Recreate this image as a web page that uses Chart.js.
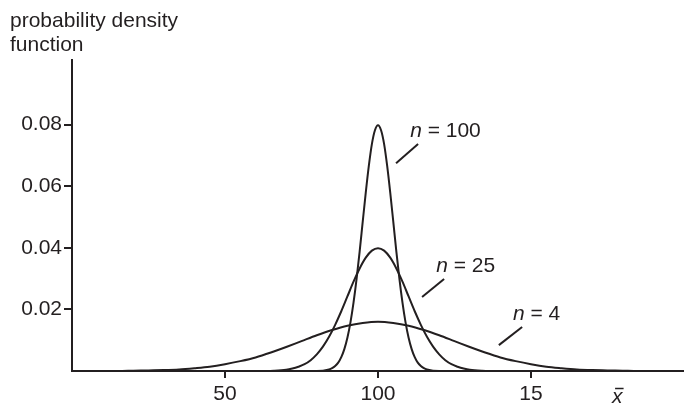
<!DOCTYPE html>
<html><head><meta charset="utf-8">
<script src="https://cdn.jsdelivr.net/npm/chart.js@4/dist/chart.umd.min.js"></script>
<style>html,body{margin:0;padding:0;background:#fff}canvas{display:block}</style>
</head><body>
<canvas id="c" width="684" height="408"></canvas>
<script>
// ---- data ----
const n100X = [0, 80, 84, 85, 86, 87, 88, 89, 90, 91, 92, 93, 94, 95, 96, 97, 98, 99, 100,
               101, 102, 103, 104, 105, 106, 107, 108, 109, 110, 111, 112, 113, 114, 115, 116, 120, 200];
const n100Y = [0, 0.0000, 0.0005, 0.0009, 0.0016, 0.0027, 0.0045, 0.0071, 0.0108, 0.0158, 0.0222, 0.0299, 0.0388, 0.0484, 0.0579, 0.0666, 0.0737, 0.0782, 0.0798,
               0.0782, 0.0737, 0.0666, 0.0579, 0.0484, 0.0388, 0.0299, 0.0222, 0.0158, 0.0108, 0.0071, 0.0045, 0.0027, 0.0016, 0.0009, 0.0005, 0.0000, 0];

const n25X = [0, 60, 66, 70, 72, 74, 76, 78, 80, 82, 84, 86, 88, 90, 92, 94, 96, 98, 100,
              102, 104, 106, 108, 110, 112, 114, 116, 118, 120, 122, 124, 126, 128, 130, 134, 140, 200];
const n25Y = [0, 0.0000, 0.0001, 0.0004, 0.0008, 0.0014, 0.0022, 0.0035, 0.0054, 0.0079, 0.0111, 0.0150, 0.0194, 0.0242, 0.0290, 0.0333, 0.0368, 0.0391, 0.0399,
              0.0391, 0.0368, 0.0333, 0.0290, 0.0242, 0.0194, 0.0150, 0.0111, 0.0079, 0.0054, 0.0035, 0.0022, 0.0014, 0.0008, 0.0004, 0.0001, 0.0000, 0];

const n4X = [0, 5, 10, 15, 20, 25, 30, 35, 40, 45, 50, 55, 60, 65, 70, 75, 80, 85, 90, 95, 100,
             105, 110, 115, 120, 125, 130, 135, 140, 145, 150, 155, 160, 165, 170, 175, 180, 185, 190, 195, 200];
const n4Y = [0, 0, 0, 0, 0.0001, 0.0002, 0.0003, 0.0005, 0.0009, 0.0014, 0.0022, 0.0032, 0.0044, 0.0060, 0.0078, 0.0097, 0.0116, 0.0133, 0.0147, 0.0156, 0.0160,
             0.0156, 0.0147, 0.0133, 0.0116, 0.0097, 0.0078, 0.0060, 0.0044, 0.0032, 0.0022, 0.0014, 0.0009, 0.0005, 0.0003, 0.0002, 0.0001, 0, 0, 0, 0];

const yTickValues = [0.02, 0.04, 0.06, 0.08];
const xTickValues = [50, 100, 150];
const xTickLabels = ['50', '100', '15'];
const seriesNames = ['100', '25', '4'];

// ---- styles ----
const INK = '#231f20';
const FONT = '"Liberation Sans", Arial, Helvetica, sans-serif';
const FS = 21;

function pts(xs, ys) { return xs.map((x, i) => ({ x: x, y: ys[i] })); }

// annotation placement (data coordinates)
const labelAnchors = [
  { text: [110.5, 0.0780], line: [[105.9, 0.0675], [113.1, 0.0737]] },
  { text: [119.0, 0.0340], line: [[114.4, 0.0240], [121.6, 0.0299]] },
  { text: [144.1, 0.0184], line: [[139.5, 0.0084], [147.1, 0.0143]] }
];

const annot = {
  id: 'annot',
  afterDraw(chart) {
    const ctx = chart.ctx, sx = chart.scales.x, sy = chart.scales.y;
    ctx.save();
    ctx.fillStyle = INK; ctx.strokeStyle = INK;
    ctx.font = FS + 'px ' + FONT;
    ctx.textAlign = 'left'; ctx.textBaseline = 'alphabetic';
    ctx.fillText('probability density', 10, 27);
    ctx.fillText('function', 10, 51);

    labelAnchors.forEach((a, i) => {
      const tx = sx.getPixelForValue(a.text[0]);
      const ty = sy.getPixelForValue(a.text[1]);
      ctx.textBaseline = 'middle';
      ctx.font = 'italic ' + FS + 'px ' + FONT;
      ctx.fillText('n', tx, ty);
      const w = ctx.measureText('n').width;
      ctx.font = FS + 'px ' + FONT;
      ctx.fillText(' = ' + seriesNames[i], tx + w, ty);
      ctx.lineWidth = 2;
      ctx.beginPath();
      ctx.moveTo(sx.getPixelForValue(a.line[0][0]), sy.getPixelForValue(a.line[0][1]));
      ctx.lineTo(sx.getPixelForValue(a.line[1][0]), sy.getPixelForValue(a.line[1][1]));
      ctx.stroke();
    });

    // x-bar axis label
    const bx = sx.getPixelForValue(176.5);
    const by = chart.chartArea.bottom + 32;
    ctx.textBaseline = 'alphabetic';
    ctx.font = 'italic ' + FS + 'px ' + FONT;
    ctx.fillText('x', bx, by);
    ctx.lineWidth = 1.5;
    ctx.beginPath();
    ctx.moveTo(bx + 3, by - 14.5);
    ctx.lineTo(bx + 11.5, by - 14.5);
    ctx.stroke();
    ctx.restore();
  }
};

const lineStyle = { showLine: true, borderColor: INK, borderWidth: 2, pointRadius: 0, fill: false, cubicInterpolationMode: 'monotone' };

new Chart(document.getElementById('c'), {
  type: 'scatter',
  data: {
    datasets: [
      Object.assign({ label: 'n = 100', data: pts(n100X, n100Y) }, lineStyle),
      Object.assign({ label: 'n = 25', data: pts(n25X, n25Y) }, lineStyle),
      Object.assign({ label: 'n = 4', data: pts(n4X, n4Y) }, lineStyle)
    ]
  },
  options: {
    responsive: false, animation: false, devicePixelRatio: 1,
    layout: { padding: { top: 60, right: 0, left: 0, bottom: 0 } },
    plugins: { legend: { display: false }, tooltip: { enabled: false }, title: { display: false } },
    scales: {
      x: {
        type: 'linear', min: 0, max: 200,
        afterBuildTicks: s => { s.ticks = xTickValues.map(v => ({ value: v })); },
        afterFit: s => { s.height = 37; },
        ticks: { callback: (v, i) => xTickLabels[i], font: { size: FS, family: FONT }, color: INK, padding: 4, maxRotation: 0, autoSkip: false },
        grid: { drawOnChartArea: false, drawTicks: true, tickLength: 7, color: INK, lineWidth: 2 },
        border: { display: true, color: INK, width: 2 }
      },
      y: {
        type: 'linear', min: 0, max: 0.101,
        afterBuildTicks: s => { s.ticks = yTickValues.map(v => ({ value: v })); },
        afterFit: s => { s.width = 72; },
        ticks: { callback: v => v.toFixed(2), font: { size: FS, family: FONT }, color: INK, padding: 2 },
        grid: { drawOnChartArea: false, drawTicks: true, tickLength: 8, color: INK, lineWidth: 2 },
        border: { display: true, color: INK, width: 2 }
      }
    }
  },
  plugins: [annot]
});
</script>
</body></html>
